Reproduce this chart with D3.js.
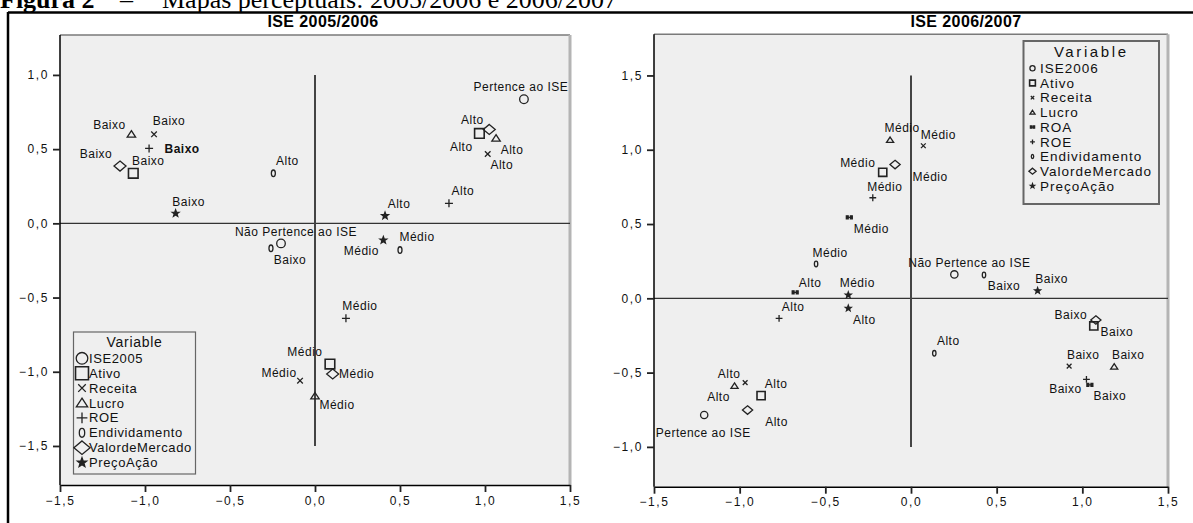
<!DOCTYPE html>
<html>
<head>
<meta charset="utf-8">
<script src="https://cdn.jsdelivr.net/npm/d3@7/dist/d3.min.js"></script>
<style>
  html, body { margin: 0; padding: 0; background: #ffffff; }
  svg { display: block; }
  text { font-family: "Liberation Sans", Arial, sans-serif; }
</style>
</head>
<body>
<svg id="chart" width="1193" height="523"></svg>
<script>
// ---------------- DATA ----------------
const captionBold = "Figura 2";
const captionText = "Mapas perceptuais: 2005/2006 e 2006/2007";

const titles = ["ISE 2005/2006", "ISE 2006/2007"];

const xTicks = [-1.5, -1.0, -0.5, 0.0, 0.5, 1.0, 1.5];
const yTicks2005 = [-1.5, -1.0, -0.5, 0.0, 0.5, 1.0];
const yTicks2006 = [-1.0, -0.5, 0.0, 0.5, 1.0, 1.5];

const legend2005 = ["ISE2005", "Ativo", "Receita", "Lucro", "ROE", "Endividamento", "ValordeMercado", "PreçoAção"];
const legend2006 = ["ISE2006", "Ativo", "Receita", "Lucro", "ROA", "ROE", "Endividamento", "ValordeMercado", "PreçoAção"];

// ISE 2005/2006 points
const var2005 = ["Lucro","Receita","ROE","ValordeMercado","Ativo","PreçoAção","Endividamento","Endividamento","ISE2005",
                 "ISE2005","Ativo","ValordeMercado","Lucro","Receita","ROE","PreçoAção","PreçoAção","Endividamento",
                 "ROE","Ativo","ValordeMercado","Lucro","Receita"];
const label2005 = ["Baixo","Baixo","Baixo","Baixo","Baixo","Baixo","Alto","Baixo","Não Pertence ao ISE",
                   "Pertence ao ISE","Alto","Alto","Alto","Alto","Alto","Alto","Médio","Médio",
                   "Médio","Médio","Médio","Médio","Médio"];
const dim1_2005 = [-1.08,-0.947,-0.976,-1.147,-1.069,-0.82,-0.245,-0.259,-0.20,
                   1.229,0.967,1.025,1.065,1.016,0.788,0.412,0.402,0.50,
                   0.182,0.088,0.104,0.0,-0.088];
const dim2_2005 = [0.60,0.60,0.505,0.386,0.337,0.067,0.337,-0.168,-0.135,
                   0.836,0.606,0.633,0.573,0.467,0.135,0.051,-0.113,-0.18,
                   -0.64,-0.948,-1.015,-1.164,-1.06];

// ISE 2006/2007 points
const var2006 = ["Lucro","Receita","ValordeMercado","Ativo","ROE","ROA","Endividamento","ROA","PreçoAção",
                 "PreçoAção","ROE","Receita","Lucro","Ativo","ValordeMercado","ISE2006","ISE2006","Endividamento",
                 "PreçoAção","ValordeMercado","Ativo","Endividamento","Receita","Lucro","ROE","ROA"];
const label2006 = ["Médio","Médio","Médio","Médio","Médio","Médio","Médio","Alto","Médio",
                   "Alto","Alto","Alto","Alto","Alto","Alto","Pertence ao ISE","Não Pertence ao ISE","Baixo",
                   "Baixo","Baixo","Baixo","Alto","Baixo","Baixo","Baixo","Baixo"];
const dim1_2006 = [-0.122,0.072,-0.093,-0.165,-0.223,-0.36,-0.554,-0.676,-0.366,
                   -0.366,-0.77,-0.968,-1.03,-0.875,-0.954,-1.207,0.253,0.426,
                   0.739,1.079,1.067,0.136,0.923,1.186,1.024,1.044];
const dim2_2006 = [1.065,1.027,0.90,0.848,0.677,0.545,0.231,0.04,0.022,
                   -0.067,-0.135,-0.568,-0.59,-0.655,-0.752,-0.785,0.161,0.157,
                   0.051,-0.146,-0.186,-0.37,-0.456,-0.46,-0.545,-0.583];

// ---------------- LAYOUT (pixel offsets of the point labels) ----------------
const labelOffsets2005 = [[-22,-9],[15,-13],[33,0],[-24,-12],[15,-13],[13,-12],[14,-13],[19,12],[15,-12],
                          [-3,-12],[-7,-14],[-28,17],[16,12],[14,11],[14,-13],[14,-12],[-22,11],[17,-13],
                          [14,-13],[-25,-12],[24,0],[22,9],[-21,-8]];
const labelOffsets2006 = [[12,-12],[15,-11],[35,12],[-25,-10],[12,-11],[22,11],[14,-11],[15,-10],[9,-12],
                          [16,12],[14,-12],[-16,-9],[-16,11],[15,-12],[29,12],[-1,18],[15,-12],[20,11],
                          [14,-12],[-25,-5],[23,6],[14,-12],[14,-11],[14,-12],[-21,10],[20,11]];

const svg = d3.select("#chart");
const W = 1193, H = 523;

// ---------------- caption + outer frame ----------------
const cap = svg.append("text").attr("x", 0).attr("y", 8)
  .style("font-family", "'Liberation Serif', 'Times New Roman', serif")
  .style("font-size", "26px").attr("fill", "#000");
cap.append("tspan").attr("font-weight", "bold").text(captionBold);
cap.append("tspan").attr("x", 120).text("–");
cap.append("tspan").attr("x", 162).text(captionText);

svg.append("line").attr("x1", 8).attr("x2", W).attr("y1", 12.5).attr("y2", 12.5)
  .attr("stroke", "#000").attr("stroke-width", 2.5);
svg.append("line").attr("x1", 8).attr("x2", 8).attr("y1", 12).attr("y2", H)
  .attr("stroke", "#000").attr("stroke-width", 2.5);

// ---------------- symbols ----------------
function symbolPath(type, s) {
  const p = d3.path();
  switch (type) {
    case "ISE2005": case "ISE2006": {
      const r = 4.3 * s; p.moveTo(r, 0); p.arc(0, 0, r, 0, 2 * Math.PI); break;
    }
    case "Ativo": {
      const h = 4.8 * s; p.rect(-h, -h, 2 * h, 2 * h); break;
    }
    case "Receita": {
      const h = 2.8 * s; p.moveTo(-h, -h); p.lineTo(h, h); p.moveTo(h, -h); p.lineTo(-h, h); break;
    }
    case "Lucro": {
      const w = 4.2 * s, t = 3.6 * s, b = 2.8 * s;
      p.moveTo(0, -t); p.lineTo(w, b); p.lineTo(-w, b); p.closePath(); break;
    }
    case "ROE": {
      const h = 4 * s; p.moveTo(-h, 0); p.lineTo(h, 0); p.moveTo(0, -h); p.lineTo(0, h); break;
    }
    case "ROA": {
      const w = 3.5 * s, h = 1.8 * s;
      p.rect(-w, -h, 2.2 * s, 2 * h); p.rect(w - 2.2 * s, -h, 2.2 * s, 2 * h);
      p.moveTo(-w, 0); p.lineTo(w, 0); break;
    }
    case "ValordeMercado": {
      const w = 6 * s, h = 5 * s;
      p.moveTo(0, -h); p.lineTo(w, 0); p.lineTo(0, h); p.lineTo(-w, 0); p.closePath(); break;
    }
    case "PreçoAção": {
      const R = 3.6 * s, r = 1.5 * s;
      for (let k = 0; k < 10; k++) {
        const a = -Math.PI / 2 + k * Math.PI / 5, rr = k % 2 ? r : R;
        const px = rr * Math.cos(a), py = rr * Math.sin(a);
        if (k === 0) p.moveTo(px, py); else p.lineTo(px, py);
      }
      p.closePath(); break;
    }
  }
  return p.toString();
}

function drawSymbol(g, type, cx, cy, s) {
  if (type === "Endividamento") {
    g.append("ellipse").attr("cx", cx).attr("cy", cy).attr("rx", 2.0 * s).attr("ry", 3.3 * s)
      .attr("fill", "none").attr("stroke", "#222").attr("stroke-width", 1.3);
    return;
  }
  const filled = (type === "PreçoAção" || type === "ROA");
  g.append("path").attr("d", symbolPath(type, s))
    .attr("transform", `translate(${cx},${cy})`)
    .attr("fill", filled ? "#222" : "none")
    .attr("stroke", "#222").attr("stroke-width", type === "Ativo" ? 1.6 : 1.3);
}

const fmt = v => d3.format(".1f")(v).replace(".", ",");

// ---------------- panel ----------------
function drawPanel(cfg) {
  const { x0, x1, yTop, yBot, yDomain, yTicks, vline, title, titleX,
          vars, labels, xs, ys, offsets, boldIdx, ms } = cfg;
  const x = d3.scaleLinear().domain([-1.5, 1.5]).range([x0, x1]);
  const y = d3.scaleLinear().domain(yDomain).range([yBot, yTop]);
  const g = svg.append("g");

  g.append("text").attr("x", titleX).attr("y", 27).attr("text-anchor", "middle")
    .style("font-size", "16px").style("font-weight", "bold").style("letter-spacing", "0.4px")
    .attr("fill", "#000").text(title);

  g.append("rect").attr("x", x0).attr("y", yTop).attr("width", x1 - x0).attr("height", yBot - yTop)
    .attr("fill", "#efefef");
  g.append("line").attr("x1", x0).attr("x2", x1).attr("y1", yTop).attr("y2", yTop)
    .attr("stroke", "#7a7a7a").attr("stroke-width", 1.5);
  g.append("line").attr("x1", x1).attr("x2", x1).attr("y1", yTop).attr("y2", yBot)
    .attr("stroke", "#b4b4b4").attr("stroke-width", 3);

  // reference lines
  g.append("line").attr("x1", x0).attr("x2", x1).attr("y1", y(0)).attr("y2", y(0))
    .attr("stroke", "#333").attr("stroke-width", 1.3);
  g.append("line").attr("x1", x(0)).attr("x2", x(0)).attr("y1", y(vline[1])).attr("y2", y(vline[0]))
    .attr("stroke", "#444").attr("stroke-width", 2);

  // axes
  const ax = g.append("g").attr("transform", `translate(0,${yBot})`)
    .call(d3.axisBottom(x).tickValues(xTicks).tickFormat(fmt).tickSize(7).tickSizeOuter(0).tickPadding(4));
  const ay = g.append("g").attr("transform", `translate(${x0},0)`)
    .call(d3.axisLeft(y).tickValues(yTicks).tickFormat(fmt).tickSize(7).tickSizeOuter(0).tickPadding(4));
  [ax, ay].forEach(a => {
    a.select(".domain").attr("stroke", "#000").attr("stroke-width", 1.5);
    a.selectAll(".tick line").attr("stroke", "#222").attr("stroke-width", 1.8);
    a.selectAll(".tick text").style("font-size", "12px").style("letter-spacing", "1.6px")
      .style("font-family", "'Liberation Sans', Arial, sans-serif").attr("fill", "#111");
  });
  ay.select(".domain").attr("d", `M0,${yTop}V${yBot}`);

  // points
  const pg = g.append("g");
  vars.forEach((v, i) => {
    const cx = x(xs[i]), cy = y(ys[i]);
    drawSymbol(pg, v, cx, cy, ms);
    pg.append("text").attr("x", cx + offsets[i][0]).attr("y", cy + offsets[i][1])
      .attr("text-anchor", "middle").attr("dy", "0.35em")
      .style("font-size", "12px").style("letter-spacing", "0.5px")
      .style("font-weight", boldIdx.includes(i) ? "bold" : "normal")
      .attr("fill", "#111").text(labels[i]);
  });
  return g;
}

drawPanel({ x0: 60, x1: 570, yTop: 35, yBot: 485, yDomain: [-1.763, 1.269], yTicks: yTicks2005,
  vline: [-1.5, 1.0], title: titles[0], titleX: 323,
  vars: var2005, labels: label2005, xs: dim1_2005, ys: dim2_2005, offsets: labelOffsets2005,
  boldIdx: [2], ms: 1.0 });

drawPanel({ x0: 654, x1: 1168, yTop: 34.3, yBot: 486.7, yDomain: [-1.268, 1.777], yTicks: yTicks2006,
  vline: [-1.0, 1.5], title: titles[1], titleX: 966,
  vars: var2006, labels: label2006, xs: dim1_2006, ys: dim2_2006, offsets: labelOffsets2006,
  boldIdx: [], ms: 0.85 });

// ---------------- legends ----------------
function drawLegend(cfg) {
  const { bx, by, bw, bh, items, titleY, firstY, step, symX, textX, s, fs, ls, tfs, tls, stroke, sw } = cfg;
  const g = svg.append("g");
  g.append("rect").attr("x", bx).attr("y", by).attr("width", bw).attr("height", bh)
    .attr("fill", "#efefef").attr("stroke", stroke).attr("stroke-width", sw);
  g.append("text").attr("x", bx + bw / 2).attr("y", titleY).attr("dy", "0.35em").attr("text-anchor", "middle")
    .style("font-size", tfs + "px").style("letter-spacing", tls + "px").attr("fill", "#111").text("Variable");
  items.forEach((name, i) => {
    const cy = firstY + i * step;
    drawSymbol(g, name, symX, cy, s);
    g.append("text").attr("x", textX).attr("y", cy).attr("dy", "0.35em")
      .style("font-size", fs + "px").style("letter-spacing", ls + "px").attr("fill", "#111").text(name);
  });
}

drawLegend({ bx: 73.5, by: 332, bw: 122, bh: 142, items: legend2005, titleY: 342, firstY: 358.3, step: 14.9,
  symX: 82, textX: 89, s: 1.35, fs: 13, ls: 0.6, tfs: 14, tls: 0.7, stroke: "#666", sw: 1.2 });

drawLegend({ bx: 1023.5, by: 41, bw: 135.5, bh: 163, items: legend2006, titleY: 51.7, firstY: 68.3, step: 14.7,
  symX: 1032.5, textX: 1040, s: 0.6, fs: 13.5, ls: 1.0, tfs: 15, tls: 2.6, stroke: "#666", sw: 2 });
</script>
</body>
</html>
